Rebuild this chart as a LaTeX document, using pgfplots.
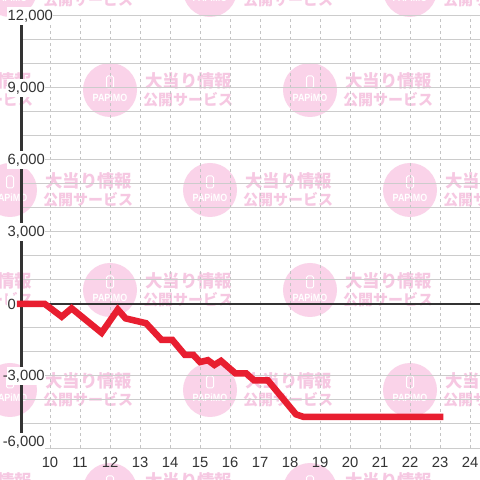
\documentclass[border=0pt]{standalone}
\usepackage{pgfplots}
\pgfplotsset{compat=1.18}
\usepackage{fontspec}
\setmainfont{Liberation Sans}
\newfontfamily\cjk{Noto Sans CJK JP}
\definecolor{wmcirc}{HTML}{FAD3E9}
\definecolor{wmtext}{HTML}{F6C8E2}
\definecolor{redline}{HTML}{E81E30}
\definecolor{dark}{HTML}{333333}
\definecolor{hgrid}{HTML}{CCCCCC}
\definecolor{vgrid}{HTML}{C4C4C4}
\tikzset{lab/.style={anchor=west, xshift=-14bp, fill=white, text=dark, inner xsep=0.5bp, inner ysep=2.5bp, font=\fontsize{14.8bp}{17bp}\selectfont}}
\newcommand{\wm}[2]{%
  \fill[wmcirc] ({#1},{480-(#2)}) circle[radius=27bp];
  \draw[white, line width=1bp, rounded corners=1.5bp] ({#1-3.5},{480-(#2)+2}) rectangle ({#1+3.5},{480-(#2)+14});
  \node[white, inner sep=0, font=\fontsize{10.5bp}{12bp}\selectfont\bfseries] at ({#1},{480-(#2)-8}) {\scalebox{0.85}[1]{PAPiMO}};
  \node[wmtext, anchor=west, inner sep=0, font=\cjk\bfseries\fontsize{17.4bp}{18bp}\selectfont] at ({#1+35},{480-(#2)+9}) {大当り情報};
  \node[wmtext, anchor=west, inner sep=0, font=\cjk\bfseries\fontsize{15bp}{16bp}\selectfont] at ({#1+33},{480-(#2)-10}) {公開サービス};
}
\begin{document}
\begin{tikzpicture}[x=1bp,y=1bp]
\useasboundingbox (0,0) rectangle (480,480);
\fill[white] (0,0) rectangle (480,480);
\begin{scope}
\clip (0,0) rectangle (480,480);
\foreach \cy in {-10,190,390} {\foreach \cx in {10,210,410} {\wm{\cx}{\cy}}}
\foreach \cy in {90,290,490} {\foreach \cx in {-90,110,310} {\wm{\cx}{\cy}}}
\end{scope}
\begin{axis}[
  at={(21bp,32bp)}, anchor=south west, scale only axis,
  width=459bp, height=432bp,
  xmin=9.03333, xmax=24.33333, ymin=-6000, ymax=12000,
  clip=false,
  axis line style={draw=none},
  xtick={10,...,24},
  ytick={-6000,-5000,...,12000},
  yticklabels={},
  scaled y ticks=false,
  major tick length=0pt,
  tick style={draw=none},
  xmajorgrids=true, ymajorgrids=true,
  major x grid style={vgrid, dash pattern=on 3bp off 3bp, line width=1bp},
  major y grid style={hgrid, line width=1bp},
  /pgf/number format/assume math mode=true,
  xticklabel style={anchor=center, yshift=-14bp, text=dark, font=\fontsize{14.8bp}{17bp}\selectfont},
]
\draw[dark, line width=2.7bp] (axis cs:9.03333,0) -- (axis cs:24.33333,0);
\draw[dark, line width=3bp] (axis cs:9.03333,-6000) -- (axis cs:9.03333,12000);
\addplot[redline, line width=6.5bp, line cap=rect, mark=none] coordinates {
(9.0,0) (9.83,0) (10.39,-530) (10.72,-180) (11.72,-1200) (12.26,-230) (12.52,-600)
(13.2,-800) (13.72,-1500) (14.08,-1500) (14.5,-2125) (14.78,-2125) (15.0,-2420)
(15.26,-2340) (15.48,-2540) (15.7,-2370) (16.18,-2890) (16.54,-2890) (16.8,-3180)
(17.26,-3180) (18.2,-4600) (18.44,-4700) (23,-4700)
};
\node[lab] at (axis cs:9.03333,12000) {12,000};
\node[lab] at (axis cs:9.03333,9000) {9,000};
\node[lab] at (axis cs:9.03333,6000) {6,000};
\node[lab] at (axis cs:9.03333,3000) {3,000};
\node[lab] at (axis cs:9.03333,0) {0};
\node[lab] at (axis cs:9.03333,-3000) {\llap{-}3,000};
\node[lab, yshift=6bp] at (axis cs:9.03333,-6000) {\llap{-}6,000};
\end{axis}
\end{tikzpicture}
\end{document}
